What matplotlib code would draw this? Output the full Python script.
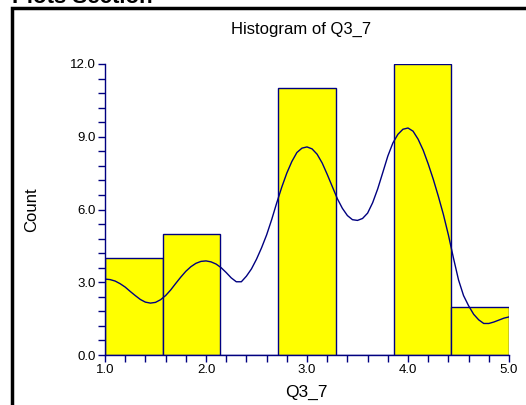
import numpy as np
import matplotlib.pyplot as plt
import matplotlib.patches as patches
from matplotlib.ticker import MultipleLocator, FormatStrFormatter

plt.rcParams['font.family'] = ['Liberation Sans', 'DejaVu Sans']

# histogram of Q3_7: 7 equal bins from 1 to 5
bin_lo, bin_hi = 1.0, 5.0
counts = [4, 5, 0, 11, 0, 12, 2]

# density curve (scaled to counts), every 0.05
curve_x = np.round(np.arange(1.0, 5.0001, 0.05), 2)
curve_y = [3.13, 3.11, 3.05, 2.94, 2.80, 2.62, 2.45, 2.29, 2.18, 2.14,
           2.17, 2.28, 2.45, 2.68, 2.95, 3.21, 3.45, 3.64, 3.78, 3.86,
           3.88, 3.84, 3.75, 3.60, 3.40, 3.18, 3.02, 3.02, 3.25, 3.55,
           3.95, 4.42, 4.95, 5.58, 6.27, 6.92, 7.50, 7.98, 8.35, 8.53,
           8.58, 8.50, 8.28, 7.92, 7.45, 6.95, 6.45, 6.05, 5.75, 5.58,
           5.55, 5.63, 5.85, 6.28, 6.85, 7.52, 8.20, 8.74, 9.10, 9.31,
           9.36, 9.23, 8.90, 8.45, 7.88, 7.25, 6.55, 5.80, 4.95, 4.00,
           3.10, 2.45, 2.03, 1.68, 1.45, 1.30, 1.30, 1.36, 1.44, 1.52,
           1.57]

navy = '#000080'

fig = plt.figure(figsize=(5.26, 4.05), dpi=100)

# section header (clipped at the top, as in the page) and panel frame
fig.text(12 / 526, 1 - 3 / 405, 'Plots Section', fontsize=16, fontweight='bold',
         ha='left', va='baseline')
fig.patches.append(patches.Rectangle((12 / 526, -0.1), 1.0, 1 - 8 / 405 + 0.1,
                                     transform=fig.transFigure, fill=False,
                                     edgecolor='black', linewidth=2.5))

ax = fig.add_axes([105 / 526, 1 - 355 / 405, 404 / 526, 291 / 405])

edges = np.linspace(bin_lo, bin_hi, len(counts) + 1)
ax.bar(edges[:-1], counts, width=np.diff(edges), align='edge',
       color='#ffff00', edgecolor=navy, linewidth=1)
ax.plot(curve_x, curve_y, color=navy, linewidth=1)

ax.set_xlim(1, 5)
ax.set_ylim(0, 12)
ax.xaxis.set_major_locator(MultipleLocator(1.0))
ax.xaxis.set_minor_locator(MultipleLocator(0.2))
ax.yaxis.set_major_locator(MultipleLocator(3.0))
ax.yaxis.set_minor_locator(MultipleLocator(0.6))
ax.xaxis.set_major_formatter(FormatStrFormatter('%.1f'))
ax.yaxis.set_major_formatter(FormatStrFormatter('%.1f'))
ax.tick_params(which='both', direction='out', length=5, width=1, color=navy,
               labelsize=9.5, pad=1.5)

for side in ['top', 'right']:
    ax.spines[side].set_visible(False)
for side in ['left', 'bottom']:
    ax.spines[side].set_color(navy)
    ax.spines[side].set_linewidth(1)

fig.text(301 / 526, 1 - 34 / 405, 'Histogram of Q3_7', fontsize=12,
         ha='center', va='baseline')
fig.text(32 / 526, 1 - 210 / 405, 'Count', fontsize=12, rotation=90,
         ha='center', va='center')
fig.text(306 / 526, 1 - 397 / 405, 'Q3_7', fontsize=12.5,
         ha='center', va='baseline')

fig.savefig('out.png', dpi=100)
